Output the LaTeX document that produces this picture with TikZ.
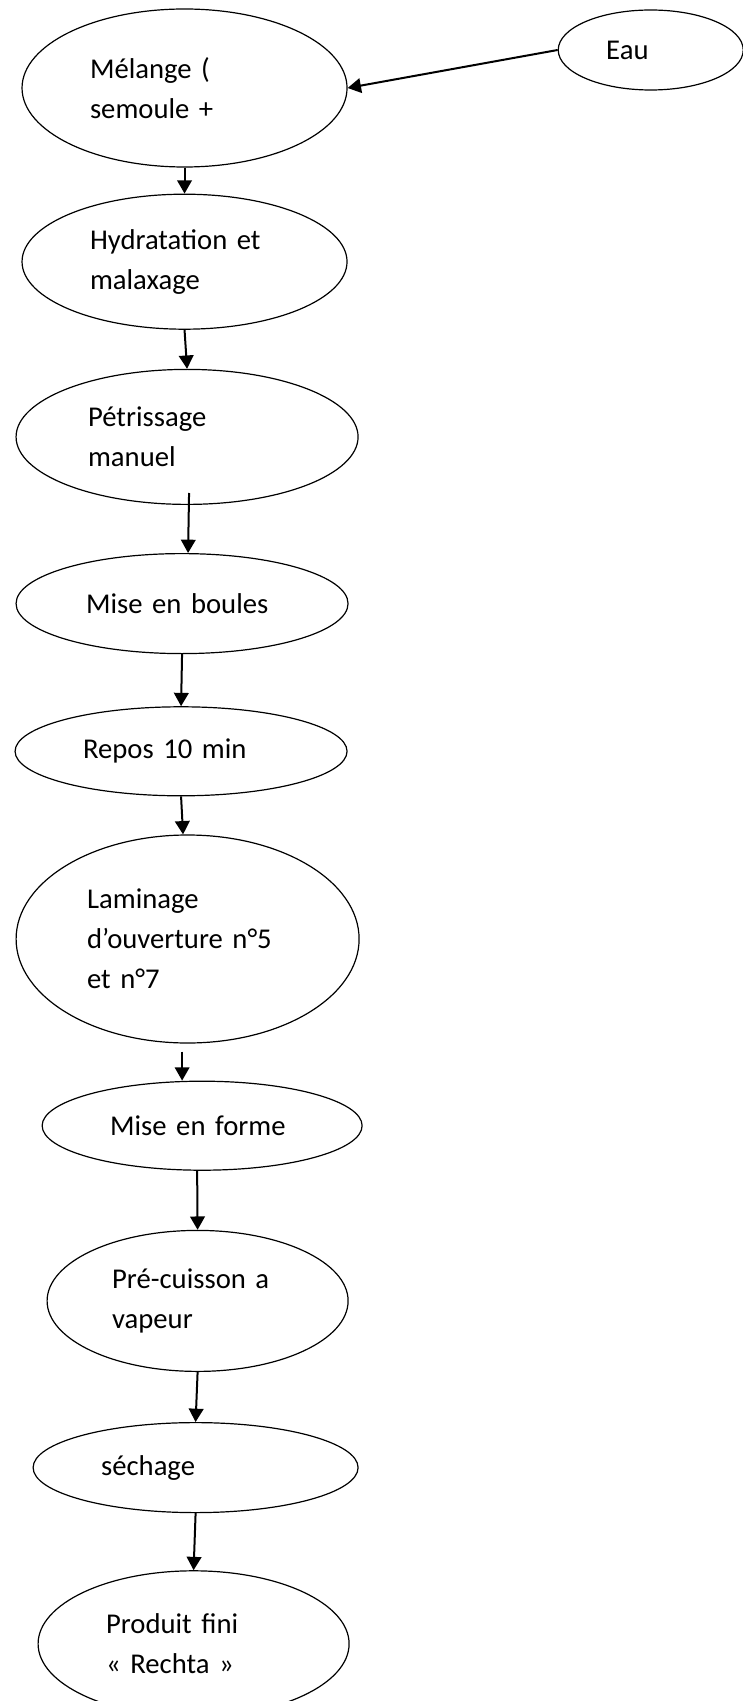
\documentclass[tikz,border=0pt]{standalone}
\usepackage{fontspec}
\setmainfont{Carlito}
\usetikzlibrary{arrows.meta,positioning,shapes.geometric}

\begin{document}
\begin{tikzpicture}[
    >=Latex,
    stage/.style={ellipse,draw=black,line width=0.9pt,align=left,inner sep=2pt,
                  font=\fontsize{21.5}{30}\selectfont},
    fl/.style={-{Triangle[length=10pt,width=11pt]},line width=1.5pt,black},
]
\useasboundingbox (-138.4pt,-1209.75pt) rectangle (418.1pt,66pt);

\node[stage,minimum width=243.75pt,minimum height=118.5pt,text width=141.75pt]
      (melange) {Mélange (\\semoule +};
\node[stage,minimum width=138.75pt,minimum height=60pt,text width=66.75pt,
      right=157.5pt of melange,yshift=28.5pt] (eau) {Eau};
\node[stage,minimum width=243.75pt,minimum height=101.25pt,text width=141.75pt,
      below=19.5pt of melange] (hydra) {Hydratation et\\malaxage};
\node[stage,minimum width=256.5pt,minimum height=101.25pt,text width=148.5pt,
      below=29.25pt of hydra,xshift=1.9pt] (petri) {Pétrissage\\manuel};
\node[stage,minimum width=249pt,minimum height=75pt,text width=144pt,
      below=36pt of petri,xshift=-3.75pt] (boules) {Mise en boules};
\node[stage,minimum width=249pt,minimum height=66.75pt,text width=147pt,
      below=39pt of boules,xshift=-0.75pt] (repos) {Repos 10 min};
\node[stage,minimum width=257.25pt,minimum height=156pt,text width=150.75pt,
      below=28.5pt of repos,xshift=4.9pt] (lamin) {Laminage\\d’ouverture n°5\\et n°7};
\node[stage,minimum width=240pt,minimum height=66.75pt,text width=138pt,
      below=27.75pt of lamin,xshift=10.9pt] (forme) {Mise en forme};
\node[stage,minimum width=225.75pt,minimum height=105.75pt,text width=128.25pt,
      below=44.25pt of forme,xshift=-3.4pt] (cuisson) {Pré-cuisson a\\vapeur};
\node[stage,minimum width=243.75pt,minimum height=67.5pt,text width=141.75pt,
      below=37.5pt of cuisson,xshift=-1.5pt] (sechage) {séchage};
\node[stage,minimum width=233.25pt,minimum height=109.5pt,text width=131.25pt,
      below=42.75pt of sechage,xshift=-1.5pt] (fini) {Produit fini\\« Rechta »};

\draw[fl] (eau.west) -- (melange.east);
\draw[fl] (melange.south) -- (hydra.north);
\draw[fl] (hydra.south) -- (petri.north);
\draw[fl] ([xshift=1.5pt,yshift=9pt]petri.south) -- ([xshift=4.5pt]boules.north);
\draw[fl] (boules.south) -- (repos.north);
\draw[fl] (repos.south) -- ([xshift=-3.4pt]lamin.north);
% arrow below the rolling step sits left of the next centre
\draw[fl] ([xshift=-4.1pt,yshift=-6pt]lamin.south) -- ([xshift=-15pt]forme.north);
\draw[fl] ([xshift=-3.75pt]forme.south) -- (cuisson.north);
\draw[fl] (cuisson.south) -- (sechage.north);
\draw[fl] (sechage.south) -- (fini.north);

\end{tikzpicture}
\end{document}
